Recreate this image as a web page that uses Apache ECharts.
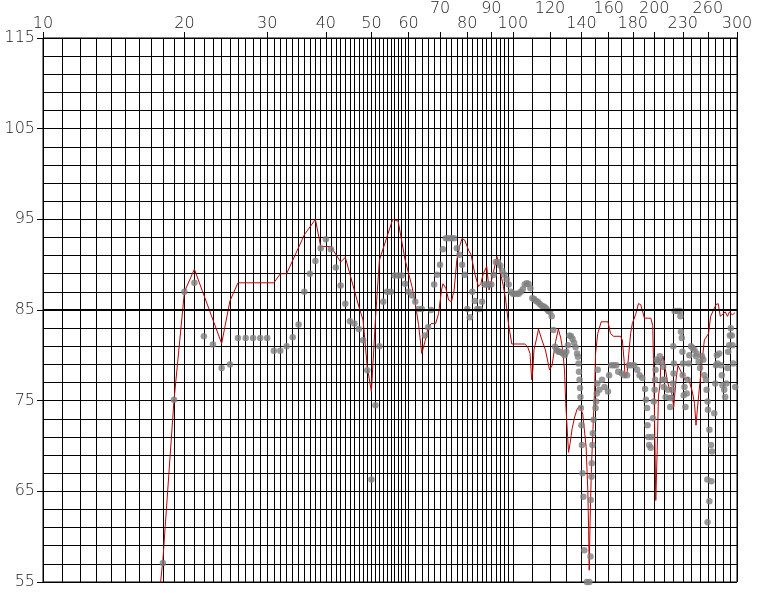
<!DOCTYPE html>
<html>
<head>
<meta charset="utf-8">
<script src="https://cdn.jsdelivr.net/npm/echarts@6/dist/echarts.min.js"></script>
<style>html,body{margin:0;padding:0;background:#fff}#c{width:762px;height:593px}</style>
</head>
<body>
<div id="c"></div>
<script>
// vertical grid lines (Hz)
const gridX = [10,11,12,13,14,15,16,17,18,19,20,21,22,23,24,25,26,27,28,29,30,31,32,33,34,35,36,37,38,39,40,41,42,43,44,45,46,47,48,49,50,51,52,53,54,55,56,57,58,59,60,62,64,66,68,70,72,74,76,78,80,82,84,86,88,90,92,94,96,98,100,110,120,130,140,150,160,170,180,190,200,210,220,230,240,250,260,270,280,290,300];
// horizontal grid lines (dB)
const gridY = [55,57,59,61,63,65,67,69,71,73,75,77,79,81,83,85,87,89,91,93,95,97,99,101,103,105,107,109,111,113,115];
// top labels: lower row and upper row
const xLabelsLow = [10,20,30,40,50,60,80,100,140,180,230,300];
const xLabelsHigh = [70,90,120,160,200,260];
// left labels
const yLabels = [55,65,75,85,95,105,115];
const refLevel = 85;

// red trace [Hz, dB]
const redLow = [[17,45],[18,57.5],[19,75],[20,87],[21,89.5],[24,81.3],[25,86],[26,88],[31,88],[32,89],[33,89],[36,93.3],[38,95],[39,92],[41,92],[43,90.3],[44,90.8],[47,85.4],[48,83.9],[49,78.7],[50,76],[51,84],[52,90.5],[55.5,95],[57,94.8],[59,90.5],[61,87.6],[62,85.7],[63,83.4],[64,80.2],[65,81.5],[66,83],[67,83.5],[68.5,83.5],[69.5,84.6],[70.5,87.2],[71,87.9],[72,87.4],[73,86.1],[74,85.9],[75,87.2],[76,90.5],[77,92],[78,92.9],[79,92.7],[80.5,91.6],[81.5,91.1],[83,89],[84.5,87.6],[85.5,87.9],[86.5,89],[88,89.8],[89,87.2],[90.5,88.7],[92.5,90.9],[93.5,90],[94.5,88.7],[95.5,87.6],[96.5,86.2],[98,83.3],[99.5,81.25]];
const redMid = [[106,81.25],[107.5,80.95],[108.8,80.2],[109.7,77.3],[110.3,78.4],[110.9,80.6],[112.4,81.9],[113.4,82.9],[115.3,81.7],[117.3,80.6],[119.7,78.4],[121.2,78.9],[123.3,81.5],[125,82.9],[126.5,81.9],[127.8,80.4],[128.8,78.4],[129.6,74.7],[130.8,71],[131.4,69.3],[132.4,70.3],[133.7,71.9],[135.4,73.2],[137.1,74.1],[138.9,74.4],[140.9,73.5],[143.2,69.9],[144.4,65.1],[145,60.7],[145.4,56.3],[146,61.5],[147,67.7],[148.1,71.8],[149.3,76.2],[150,80.2],[151.6,82.4],[154.2,83.7],[159.4,83.7],[161.4,82.4],[163.8,82.1],[169.5,82.1],[171,81.7],[172.6,79.3],[173.4,77.5],[175,78],[178.1,82.4],[179.6,83.5],[182.8,84.6],[185.1,85.7],[187.1,85.6],[190.6,84.1],[196.6,84.1],[198.5,83.3],[199.3,79.1]];
const redHigh = [[200.4,72.1],[201.5,64],[203,70],[204.1,75.4],[205.9,77],[206.5,79.3],[208.7,79.9],[210.8,78.75],[213,77.3],[215.7,76.2],[217,76.5],[220,74.3],[222.5,77.3],[224.6,78.9],[227,78.4],[232.2,77.3],[236,77.6],[241,76],[243.6,74.7],[245.4,72.3],[247,74],[250,76.9],[253,79.5],[255.7,81.7],[258,81.6],[261,82.4],[263.6,84.3],[266,84.2],[270.7,85.6],[273.6,85.7],[276.4,84.3],[278.5,84.45],[283.2,84.8],[286.3,84.3],[289.2,84.8],[293.3,84.45],[297,84.7]];

// grey dots [Hz, dB]
const dotsLow = [[18,57.1],[19,75.1],[20,87],[21,88],[22,82.1],[23,81.2],[24,78.6],[25,79],[26,81.9],[27,81.9],[28,81.9],[29,81.9],[30,81.9],[31,80.5],[32,80.5],[33,81],[34,82],[35,83.4],[36,87],[37,89],[38,90.4],[39,91.8],[40,92.8],[41,91.7],[42,89.7],[43,87.7],[44,85.7],[45,83.75],[46,83.5],[47,82.9],[48,81.65],[49,78.35],[50,66.3],[51,74.5],[52,81],[53,85.9],[54,87],[55,87],[56,88.8],[57,88.8],[58,88.8],[59,87.9],[60,87],[61,86.6],[62,85.9],[63,85.1],[64,85.1],[65,82.2],[66,83.1],[67,85],[68,87.8],[69,88.9],[70,90],[71,91.7],[72,92.9],[73,92.9],[74,92.9],[75,92.9],[76,91.8],[77,91.1],[78,90],[79,88.9],[80,85.1],[81,84.2],[82,87],[83,86],[84,85.1],[85,85.1],[86,85.9],[87,87.8],[88,87.8],[89,87.8],[90,87.8],[91,88.9],[92,90.3],[93,90.3],[94,89.9],[95,89.3],[96,88.9],[97,88.4],[98,87.8],[99,87]];
const dotsMid = [[100,86.8],[101,86.8],[102,86.8],[103,86.8],[104,87],[105,87.3],[106,87.8],[107,87.95],[108,87.9],[109,87.4],[110,86.3],[111,86.2],[112,86],[113,85.9],[114,85.7],[115,85.5],[116,85.4],[117,85.3],[118,85.1],[119,84.9],[120,84.8],[121,84.3],[122,82.8],[123,80.95],[124,80.6],[125,80.4],[126,80.4],[127,80.3],[128,80.2],[129,80],[130,80.4],[131,81.1],[132,82.2],[133,82.1],[134,81.8],[135,81.4],[136,80.9],[137,80.2],[137.6,79.85],[138,79.1],[138.3,78.2],[138.7,77.3],[139,76.4],[139.3,75.4],[139.6,74.2],[140,72.3],[140.3,70.1],[140.7,67],[141.3,64.4],[142,58.5],[143.8,55],[145.5,55],[146.3,57.8],[146.5,64.05],[147,66.6],[147.2,68.1],[147.7,70.1],[148,71.4],[148.6,72.9],[150,74.2],[150.4,74.9],[150.9,75.8],[151.2,76.9],[151.6,78.4],[152.8,76.2],[154.8,77.3],[156.7,76.5],[159.4,76],[160.3,77.8],[162,78.9],[164,78.9],[166,78.9],[167.6,78.2],[170.5,78],[172.6,77.8],[175,77.8],[176.5,78.9],[178.7,78.9],[181.2,78.9],[183.9,78.4],[186.1,77.8],[188.6,77.5],[191.2,76.3],[192,75.1],[193,74.2],[193.5,72.3],[194.3,71],[195,70.1],[196.5,69.8],[197.5,71],[198.7,73.05],[199.5,74.9]];
const dotsHigh = [[200.4,76.2],[200.8,77.3],[201.3,78.4],[202.3,79.5],[203.4,79.3],[205.5,79.9],[207.2,79.3],[208.9,78.75],[208.3,77.3],[209.5,76.5],[210.5,77.3],[211.5,75.4],[213.9,76.2],[215.6,75.3],[216.3,74.3],[217.4,75.3],[218.4,76.2],[219.1,76.9],[219.8,78],[220.2,79.1],[219.5,81],[220.9,84.9],[224.3,84.9],[226.8,84.9],[227.3,84.3],[227.9,82.6],[228.9,81.9],[229.6,80.4],[230.3,79.1],[229.9,77.8],[231.9,76.5],[231.1,75.6],[233,74.3],[234.5,75.8],[235.6,77.3],[236.8,79.1],[237.6,80],[239.5,81],[241.4,80.8],[243.5,80.6],[245.5,79.9],[246.1,80.2],[248.6,79.3],[250.3,78.6],[252.7,79.9],[254.4,79.5],[255.6,77.8],[257.7,77.3],[258.5,76.2],[259.7,74.9],[260.2,74],[262,71.8],[264.1,70.1],[265.4,69.4],[259.4,66.3],[264.6,66.1],[262,63.9],[259.7,61.6],[268.4,73.6],[269.7,76.9],[270.6,78.9],[271.9,80],[272.7,79.1],[275,80.2],[277.2,78.9],[278.5,77.8],[279.4,76.7],[281.8,76.2],[283.1,75.4],[284.9,76.9],[286.3,78.6],[287.3,80.4],[288.8,81.1],[289.7,82.2],[291.1,83],[292.6,82.2],[293.5,81.1],[294.5,79.1],[297.4,76.5]];

const labelFont = {fontFamily: 'DejaVu Sans', fontSize: 16, fontWeight: 200, color: '#222'};
const fmt = v => String(Math.round(v));

const chart = echarts.init(document.getElementById('c'), null, {renderer: 'canvas'});
chart.setOption({
  animation: false,
  backgroundColor: '#fff',
  grid: {left: 43, right: 25, top: 38, bottom: 11, show: true, borderColor: '#000', borderWidth: 1, backgroundColor: 'transparent'},
  xAxis: [
    {type: 'log', logBase: 10, min: 10, max: 300, position: 'top',
     axisLine: {show: true, onZero: false, lineStyle: {color: '#000', width: 1}},
     axisTick: {show: false, customValues: gridX},
     axisLabel: {show: false},
     splitLine: {show: true, lineStyle: {color: '#000', width: 1}}},
    {type: 'log', logBase: 10, min: 10, max: 300, position: 'top',
     axisLine: {show: false},
     axisTick: {show: true, length: 6, customValues: xLabelsLow, lineStyle: {color: '#000'}},
     axisLabel: Object.assign({show: true, customValues: xLabelsLow, margin: 6, formatter: fmt}, labelFont),
     splitLine: {show: false}},
    {type: 'log', logBase: 10, min: 10, max: 300, position: 'top',
     axisLine: {show: false},
     axisTick: {show: true, length: 6, customValues: xLabelsHigh, lineStyle: {color: '#000'}},
     axisLabel: Object.assign({show: true, customValues: xLabelsHigh, margin: 21, formatter: fmt}, labelFont),
     splitLine: {show: false}}
  ],
  yAxis: [
    {type: 'value', min: 55, max: 115,
     axisLine: {show: true, onZero: false, lineStyle: {color: '#000', width: 1}},
     axisTick: {show: false, customValues: gridY},
     axisLabel: {show: false},
     splitLine: {show: true, lineStyle: {color: '#000', width: 1}}},
    {type: 'value', min: 55, max: 115, position: 'left',
     axisLine: {show: false},
     axisTick: {show: true, length: 6, customValues: yLabels, lineStyle: {color: '#000'}},
     axisLabel: Object.assign({show: true, customValues: yLabels, margin: 8, formatter: fmt}, labelFont),
     splitLine: {show: false}}
  ],
  series: [
    {type: 'line', xAxisIndex: 0, yAxisIndex: 0, data: redLow.concat(redMid, redHigh),
     symbol: 'none', showSymbol: false, clip: true, z: 3,
     lineStyle: {color: '#c00000', width: 1},
     markLine: {silent: true, symbol: 'none', label: {show: false}, animation: false,
       lineStyle: {color: '#000', width: 2, type: 'solid'}, data: [{yAxis: refLevel}]}},
    {type: 'scatter', xAxisIndex: 0, yAxisIndex: 0, data: dotsLow.concat(dotsMid, dotsHigh),
     symbol: 'circle', symbolSize: 6.5, z: 4, itemStyle: {color: '#808080'}}
  ]
});
</script>
</body>
</html>
